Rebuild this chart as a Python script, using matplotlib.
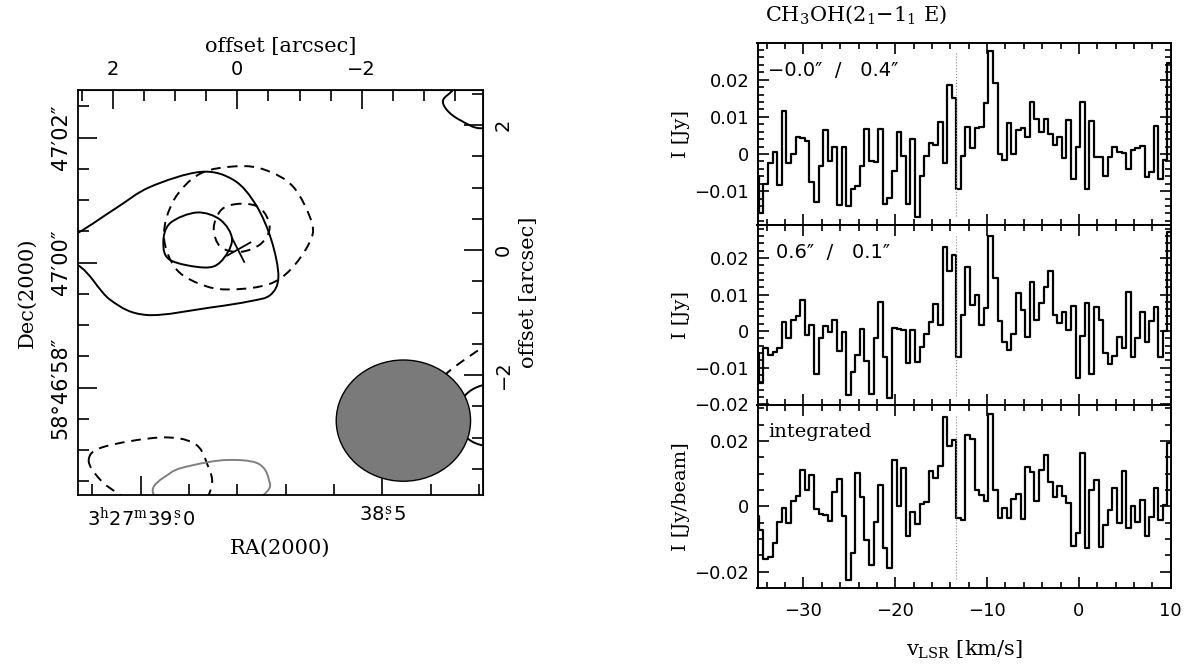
import numpy as np
import matplotlib
matplotlib.use("Agg")
import matplotlib.pyplot as plt
from matplotlib.path import Path
from matplotlib.patches import PathPatch, Ellipse
from matplotlib.ticker import MultipleLocator, FixedLocator

plt.rcParams['font.family'] = ['DejaVu Sans']
plt.rcParams['mathtext.fontset'] = 'dejavuserif'

# ---------------- spectra: CH3OH(2_1-1_1 E), 0.5 km/s channels ----------------
chan_v0 = -35.1
chan_dv = 0.5
v_line = -13.4

spec_a = [-0.0060, -0.0158, -0.0080, -0.0024, 0.0005, -0.0084, 0.0117, -0.0025, 0.0000, 0.0046,
          0.0042, 0.0034, -0.0075, -0.0130, -0.0033, 0.0065, -0.0020, 0.0020, -0.0138, 0.0020,
          -0.0140, -0.0095, -0.0087, -0.0032, 0.0067, -0.0020, -0.0022, 0.0067, -0.0135, -0.0117,
          -0.0045, 0.0058, -0.0005, -0.0135, 0.0040, -0.0170, -0.0060, -0.0005, 0.0030, 0.0025,
          0.0085, -0.0023, 0.0186, 0.0150, -0.0095, -0.0004, 0.0074, 0.0017, 0.0069, 0.0072,
          0.0137, 0.0277, 0.0190, 0.0000, -0.0016, 0.0083, 0.0000, 0.0065, 0.0070, 0.0047,
          0.0139, 0.0094, 0.0058, 0.0094, 0.0054, 0.0023, 0.0045, -0.0012, 0.0092, -0.0068,
          0.0020, 0.0141, -0.0095, 0.0090, -0.0007, -0.0009, -0.0060, -0.0009, 0.0020, 0.0006,
          0.0002, -0.0041, 0.0011, 0.0015, 0.0022, -0.0063, -0.0048, 0.0076, -0.0068, -0.0016,
          0.0245]

spec_b = [-0.0061, -0.0143, -0.0047, -0.0065, -0.0056, -0.0047, 0.0024, -0.0018, 0.0029, 0.0040,
          0.0086, -0.0011, 0.0016, -0.0118, -0.0018, 0.0015, -0.0002, 0.0029, -0.0055, -0.0002,
          -0.0175, -0.0111, -0.0064, 0.0005, -0.0082, -0.0173, -0.0018, 0.0080, -0.0070, -0.0182,
          0.0009, 0.0007, 0.0003, -0.0088, 0.0003, -0.0085, -0.0043, -0.0009, 0.0025, 0.0075,
          0.0018, 0.0230, 0.0164, 0.0209, -0.0070, 0.0045, 0.0175, 0.0071, 0.0100, 0.0018,
          0.0062, 0.0260, 0.0145, 0.0028, -0.0031, -0.0052, -0.0009, 0.0103, 0.0059, -0.0015,
          0.0135, 0.0030, 0.0078, 0.0121, 0.0164, 0.0044, 0.0021, 0.0053, 0.0003, 0.0069,
          -0.0129, -0.0013, 0.0078, -0.0118, 0.0065, 0.0030, -0.0059, -0.0091, -0.0067, -0.0015,
          -0.0047, 0.0107, -0.0070, -0.0018, 0.0051, -0.0031, 0.0028, 0.0066, -0.0070, 0.0000,
          0.0271]

spec_int = [-0.0029, -0.0071, -0.0160, -0.0156, -0.0111, -0.0049, -0.0006, -0.0050, 0.0017, 0.0032,
            0.0112, 0.0049, 0.0096, -0.0008, -0.0025, -0.0027, -0.0044, 0.0043, 0.0084, -0.0030,
            -0.0225, -0.0142, 0.0102, 0.0030, -0.0104, -0.0181, -0.0049, 0.0065, -0.0127, -0.0188,
            0.0143, 0.0002, 0.0117, -0.0092, -0.0016, -0.0055, 0.0006, 0.0014, 0.0109, 0.0088,
            0.0122, 0.0274, 0.0186, 0.0204, -0.0035, -0.0042, 0.0219, 0.0207, 0.0050, 0.0035,
            0.0016, 0.0283, 0.0050, -0.0037, -0.0004, -0.0037, 0.0022, 0.0038, -0.0039, 0.0120,
            0.0105, 0.0016, 0.0112, 0.0156, 0.0073, 0.0028, 0.0061, 0.0032, 0.0009, -0.0121,
            -0.0083, 0.0163, -0.0129, 0.0050, 0.0079, -0.0124, -0.0057, -0.0011, 0.0057, -0.0052,
            0.0109, -0.0066, 0.0002, -0.0049, 0.0019, -0.0091, -0.0032, 0.0057, -0.0042, 0.0004,
            0.0194]

panel_tags = ['\u22120.0\u2033  /   0.4\u2033', '0.6\u2033  /   0.1\u2033', 'integrated']
panel_ylabels = ['I [Jy]', 'I [Jy]', 'I [Jy/beam]']
panel_ylims = [(-0.0191, 0.0298), (-0.0202, 0.0290), (-0.0249, 0.0310)]
panel_yticks = [[0.02, 0.01, 0, -0.01], [0.02, 0.01, 0, -0.01, -0.02], [0.02, 0, -0.02]]
panel_yticklabels = [['0.02', '0.01', '0', '\u22120.01'],
                     ['0.02', '0.01', '0', '\u22120.01', '\u22120.02'],
                     ['0.02', '0', '\u22120.02']]
panel_yminor = [0.002, 0.002, 0.005]

# ---------------- map: offsets (arcsec) from phase centre ----------------
ra0_s = 38.80           # 3h27m38.80s
dec0_off = 0.2          # phase centre is 58d47'00.2"
dec_deg = 58.783
ra_major_s = [39.0, 38.5]
ra_major_lab = [r'3$^{\rm h}$27$^{\rm m}$39$\overset{\rm s}{.}$0', r'38$\overset{\rm s}{.}$5']
dec_major_as = [2.0, 0.0, -2.0]
dec_major_lab = ['47\u203202\u2033', '47\u203200\u2033', '58\u00b046\u203258\u2033']

# contour outlines (x = RA offset, y = Dec offset, arcsec)
cont_outer_pos_x = [3.3, 2.57, 1.95, 1.40, 0.59, 0.06, -0.30, -0.55, -0.66, -0.53, -0.20, 0.43, 1.45, 2.04, 2.57]
cont_outer_pos_y = [-0.1, 0.27, 0.67, 1.01, 1.25, 1.12, 0.72, 0.15, -0.43, -0.72, -0.82, -0.92, -1.04, -0.80, -0.24]
cont_inner_pos_x = [1.19, 1.08, 0.65, 0.27, 0.085, 0.27, 0.54, 1.08]
cont_inner_pos_y = [0.12, 0.43, 0.60, 0.48, 0.16, -0.19, -0.28, -0.16]
cont_outer_neg_x = [0.005, 0.60, 1.02, 1.18, 0.97, 0.50, 0.06, -0.50, -0.85, -1.15, -1.20, -0.90, -0.45]
cont_outer_neg_y = [1.34, 1.22, 0.80, 0.21, -0.32, -0.58, -0.63, -0.55, -0.32, 0.10, 0.43, 1.01, 1.28]
cont_inner_neg_x = [-0.05, 0.25, 0.38, 0.27, -0.05, -0.38, -0.52, -0.37]
cont_inner_neg_y = [0.74, 0.65, 0.35, 0.05, -0.03, 0.10, 0.37, 0.67]
cont_tr_x = [-3.47, -3.31, -3.37, -3.58, -3.95, -4.5, -4.4, -3.8]
cont_tr_y = [2.56, 2.40, 2.24, 2.08, 1.95, 2.2, 2.9, 2.9]
cont_br_neg_x = [-4.3, -3.95, -3.37, -3.0]
cont_br_neg_y = [-1.30, -1.55, -1.97, -2.4]
cont_br_pos_x = [-3.50, -3.75, -4.2, -4.7, -4.2, -3.75]
cont_br_pos_y = [-2.65, -2.25, -2.18, -2.65, -3.10, -3.05]
cont_bl_neg_x = [2.39, 2.15, 1.24, 0.70, 0.49, 0.43, 0.90, 1.83, 2.20]
cont_bl_neg_y = [-3.36, -3.15, -3.00, -3.09, -3.41, -3.84, -4.50, -3.95, -3.68]
cont_bl_grey_x = [1.34, 1.08, 0.70, 0.17, -0.32, -0.50, -0.42, 0.50]
cont_bl_grey_y = [-3.92, -3.57, -3.44, -3.36, -3.41, -3.65, -3.92, -4.50]
cross_x = [[0.165, -0.21], [0.085, -0.11]]
cross_y = [[-0.09, 0.12], [0.19, -0.19]]
beam_xy = (-2.67, -2.73)
beam_w, beam_h = 2.16, 1.94


def smooth_path(xs, ys, closed=True):
    P = np.column_stack([xs, ys])
    n = len(P)
    verts = [P[0]]
    codes = [Path.MOVETO]
    nseg = n if closed else n - 1
    for i in range(nseg):
        p1 = P[i]
        p2 = P[(i + 1) % n]
        p0 = P[(i - 1) % n] if (closed or i > 0) else P[0]
        p3 = P[(i + 2) % n] if (closed or i + 2 < n) else P[-1]
        verts += [p1 + (p2 - p0) / 6.0, p2 - (p3 - p1) / 6.0, p2]
        codes += [Path.CURVE4] * 3
    return Path(verts, codes)


W, H = 1189, 668
fig = plt.figure(figsize=(W / 100, H / 100), dpi=100)

def box(x0, y0, x1, y1):
    return [x0 / W, 1 - y1 / H, (x1 - x0) / W, (y1 - y0) / H]

# ================= map panel =================
ax = fig.add_axes(box(77.5, 90, 483, 495))
ax.set_xlim(2.57, -3.95)
ax.set_ylim(-3.92, 2.56)

dash = (0, (5, 3.5))
cont_style = [
    (cont_outer_pos_x, cont_outer_pos_y, '-', 'k', True),
    (cont_inner_pos_x, cont_inner_pos_y, '-', 'k', True),
    (cont_outer_neg_x, cont_outer_neg_y, dash, 'k', True),
    (cont_inner_neg_x, cont_inner_neg_y, dash, 'k', True),
    (cont_tr_x, cont_tr_y, '-', 'k', True),
    (cont_br_neg_x, cont_br_neg_y, dash, 'k', False),
    (cont_br_pos_x, cont_br_pos_y, '-', 'k', True),
    (cont_bl_neg_x, cont_bl_neg_y, dash, 'k', True),
    (cont_bl_grey_x, cont_bl_grey_y, '-', '#808080', True),
]
for xs, ys, ls, col, closed in cont_style:
    ax.add_patch(PathPatch(smooth_path(xs, ys, closed), fill=False, ec=col,
                           lw=1.4, ls=ls, zorder=2))
for cx, cy in zip(cross_x, cross_y):
    ax.plot(cx, cy, color='k', lw=1.3, zorder=2)
ax.add_patch(Ellipse(beam_xy, beam_w, beam_h, fc='#7a7a7a', ec='k', lw=1.0, zorder=3))

as_per_s = 15 * np.cos(np.radians(dec_deg))
ra_major_off = [(s - ra0_s) * as_per_s for s in ra_major_s]
ra_minor_off = [(s - ra0_s) * as_per_s for s in np.arange(38.2, 39.25, 0.1)]
ax.xaxis.set_major_locator(FixedLocator(ra_major_off))
ax.xaxis.set_minor_locator(FixedLocator(ra_minor_off))
ax.set_xticklabels(ra_major_lab, fontsize=14)
dec_major_off = [d - dec0_off for d in dec_major_as]
dec_minor_off = [d - dec0_off for d in np.arange(-4.0, 3.5, 0.5)]
ax.yaxis.set_major_locator(FixedLocator(dec_major_off))
ax.yaxis.set_minor_locator(FixedLocator(dec_minor_off))
ax.set_yticklabels(dec_major_lab, fontsize=15, rotation=90, va='center')
ax.tick_params(which='both', direction='in', width=1.2)
ax.tick_params(which='major', length=14)
ax.tick_params(axis='x', which='major', pad=8)
ax.tick_params(axis='y', which='major', pad=5)
ax.tick_params(which='minor', length=8)
ax.set_xlabel('RA(2000)', family='DejaVu Serif', fontsize=15, labelpad=7)
ax.set_ylabel('Dec(2000)', family='DejaVu Serif', fontsize=15, labelpad=10)
for sp in ax.spines.values():
    sp.set_linewidth(1.3)

top = ax.secondary_xaxis('top')
top.set_xticks([2, 0, -2])
top.set_xticklabels(['2', '0', '\u22122'], fontsize=14)
top.xaxis.set_minor_locator(MultipleLocator(0.5))
top.tick_params(which='both', direction='in', width=1.2)
top.tick_params(which='major', length=14, pad=8)
top.tick_params(which='minor', length=8)
top.set_xlabel('offset [arcsec]', family='DejaVu Serif', fontsize=15, labelpad=6)

right = ax.secondary_yaxis('right')
right.set_yticks([2, 0, -2])
right.set_yticklabels(['2', '0', '\u22122'], fontsize=14, rotation=90, va='center')
right.yaxis.set_minor_locator(MultipleLocator(0.5))
right.tick_params(which='both', direction='in', width=1.2)
right.tick_params(which='major', length=14, pad=8)
right.tick_params(which='minor', length=8)
right.set_ylabel('offset [arcsec]', family='DejaVu Serif', fontsize=15, rotation=90, labelpad=4)

# ================= spectra =================
v = chan_v0 + chan_dv * np.arange(len(spec_a))
rows = [(43.3, 225), (225, 405), (405, 587.7)]
spectra = [spec_a, spec_b, spec_int]
axes = []
for i, (y0, y1) in enumerate(rows):
    a = fig.add_axes(box(757.5, y0, 1170.7, y1), sharex=axes[0] if axes else None)
    a.step(v, spectra[i], where='mid', color='k', lw=1.6)
    a.axvline(v_line, ymin=0.05, ymax=0.95, color='#888888', ls=':', lw=0.8)
    a.set_xlim(-35, 10)
    a.set_ylim(*panel_ylims[i])
    a.set_yticks(panel_yticks[i])
    a.set_yticklabels(panel_yticklabels[i], fontsize=13)
    a.yaxis.set_minor_locator(MultipleLocator(panel_yminor[i]))
    a.xaxis.set_major_locator(MultipleLocator(10))
    a.xaxis.set_minor_locator(MultipleLocator(2))
    a.tick_params(which='both', direction='in', top=True, right=True, width=1.2)
    a.tick_params(which='major', length=8, pad=6)
    a.tick_params(axis='x', which='major', pad=10)
    a.tick_params(which='minor', length=4)
    for sp in a.spines.values():
        sp.set_linewidth(1.4)
    a.set_ylabel(panel_ylabels[i], family='DejaVu Serif', fontsize=14, labelpad=3)
    a.text(0.025 if i != 1 else 0.045, 0.90, panel_tags[i], transform=a.transAxes,
           fontsize=14, va='top', ha='left',
           family='DejaVu Serif' if i == 2 else 'DejaVu Sans')
    if i < 2:
        a.tick_params(labelbottom=False)
    axes.append(a)

axes[-1].set_xticks([-30, -20, -10, 0, 10])
axes[-1].set_xticklabels(['\u221230', '\u221220', '\u221210', '0', '10'], fontsize=13)
axes[-1].set_xlabel(r'v$_{\rm LSR}$ [km/s]', family='DejaVu Serif', fontsize=15, labelpad=14)
fig.text(765 / W, 1 - 15 / H, r'CH$_3$OH(2$_1$$-$1$_1$ E)', family='DejaVu Serif',
         fontsize=15, ha='left', va='center')

fig.savefig('out.png', dpi=100)
